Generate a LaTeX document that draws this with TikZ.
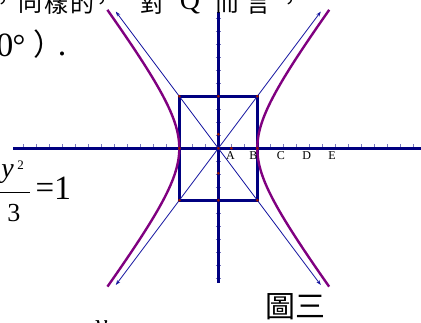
\documentclass[tikz,border=0pt]{standalone}
\usepackage{fontspec}
\setmainfont{Liberation Serif}
\newfontfamily\cjk{Noto Sans CJK TC}
\usetikzlibrary{calc,arrows.meta}
\definecolor{navyax}{RGB}{0,0,128}
\definecolor{asymc}{RGB}{20,20,160}
\definecolor{hypc}{RGB}{128,0,128}
\definecolor{dotc}{RGB}{150,20,0}
\definecolor{tickc}{RGB}{120,120,190}
\tikzset{
  axisline/.style={navyax,line width=3pt},
  boxline/.style={navyax,line width=2.5pt},
  asym/.style={asymc,line width=0.8pt,{Stealth[length=5pt,width=3.5pt]}-{Stealth[length=5pt,width=3.5pt]}},
  hyp/.style={hypc,line width=2.4pt},
  tickmark/.style={tickc,line width=0.8pt},
  ptdot/.style={fill=dotc,draw=none},
  lab/.style={font=\fontsize{12}{12}\selectfont,anchor=base,inner sep=0pt},
  cjkch/.style={font=\cjk\fontsize{#1}{#1}\selectfont,inner sep=0pt},
  latin/.style={font=\fontsize{#1}{#1}\selectfont,inner sep=0pt,anchor=base}
}
\begin{document}
\begin{tikzpicture}[x=1pt,y=-1pt]
\useasboundingbox (0,0) rectangle (421,323);
\clip (0,0) rectangle (421,323);
\fill[white] (0,0) rectangle (421,323);
% origin and key points
\coordinate (O) at (218.3,148.3);
\coordinate (XL) at (13,148.3);
\coordinate (XR) at (421,148.3);
\coordinate (YT) at (218.3,11.7);
\coordinate (YB) at (218.3,282.7);
\coordinate (TR) at ($(O)+(39,-52)$);
\coordinate (TL) at ($(O)+(-39,-52)$);
\coordinate (BR) at ($(O)+(39,52)$);
\coordinate (BL) at ($(O)+(-39,52)$);
\coordinate (UR) at ($(O)+(102.5,-136.7)$);
\coordinate (UL) at ($(O)+(-102.5,-136.7)$);
\coordinate (LR) at ($(O)+(102.5,136.7)$);
\coordinate (LL) at ($(O)+(-102.5,136.7)$);
% ticks
\foreach \k in {-15,...,15} {
  \draw[tickmark] ($(O)+(13*\k,0)$) -- ++(0,-4.5);
}
\foreach \k in {-10,...,10} {
  \draw[tickmark] ($(O)+(-2.8,13*\k)$) -- ++(5.8,0);
}
% axes
\draw[axisline] (XL) -- (XR);
\draw[axisline] (YT) -- (YB);
% box
\draw[boxline] (TL) -- (TR) -- (BR) -- (BL) -- cycle;
% asymptotes
\draw[asym] (LL) -- (UR);
\draw[asym] (UL) -- (LR);
% hyperbola
\draw[hyp,shift={(218.3,148.3)}] plot[domain=-1.706:1.706,samples=70,variable=\t,smooth] ({39*cosh(\t)},{52*sinh(\t)});
\draw[hyp,shift={(218.3,148.3)}] plot[domain=-1.706:1.706,samples=70,variable=\t,smooth] ({-39*cosh(\t)},{52*sinh(\t)});
% points
\coordinate (A) at ($(O)+(13,0)$);
\coordinate (B) at ($(O)+(39,0)$);
\coordinate (Lm) at ($(O)+(-39,0)$);
\coordinate (Tm) at ($(O)+(0,-52)$);
\coordinate (Bm) at ($(O)+(0,52)$);
\coordinate (Y1) at ($(O)+(0,-14)$);
\coordinate (Y2) at ($(O)+(0,25)$);
\foreach \p in {O,A,B,Lm,Tm,Bm,Y1,Y2,TR,TL,BR,BL} {
  \fill[ptdot] (\p) circle (1.5);
}
% labels
\node[lab] (la) at (230.5,160) {A};
\node[lab] (lb) at (253.5,160) {B};
\node[lab] (lc) at (281,160) {C};
\node[lab] (ld) at (306.7,160) {D};
\node[lab] (le) at (332,160) {E};
% top text line (clipped)
\node[cjkch=24] (t1) at (3,3) {，};
\node[cjkch=24] (t2) at (31,3) {同};
\node[cjkch=24] (t3) at (56,3) {樣};
\node[cjkch=24] (t4) at (82,3) {的};
\node[cjkch=24] (t5) at (102,3) {，};
\node[cjkch=24] (t6) at (152,3) {對};
\node[latin=28] (t7) at (190,10) {Q};
\node[cjkch=24] (t8) at (227,3) {而};
\node[cjkch=24] (t9) at (258,3) {言};
\node[cjkch=24] (t10) at (290,3) {，};
% second line
\node[latin=34] (s1) at (5,57) {0};
\node[latin=32] (s2) at (19,57) {°};
\node[cjkch=30] (s3) at (48,44) {）};
\node[latin=34] (s4) at (62,56) {.};
% equation fragment
\node[latin=28,font=\itshape\fontsize{28}{28}\selectfont] (ey) at (7.5,178) {y};
\node[latin=13] (e2) at (20.5,170) {2};
\draw[black,line width=1pt] (-5,192.3) -- (30,192.3);
\node[latin=26] (e3) at (14,222) {3};
\node[latin=33] (eq) at (45,199) {=};
\node[latin=34] (e1) at (62.5,200) {1};
% bottom clipped letter
\node[latin=28,font=\itshape\fontsize{28}{28}\selectfont] (by) at (101,334) {y};
% caption
\node[cjkch=30] (cap) at (295,307) {圖三};
\end{tikzpicture}
\end{document}
